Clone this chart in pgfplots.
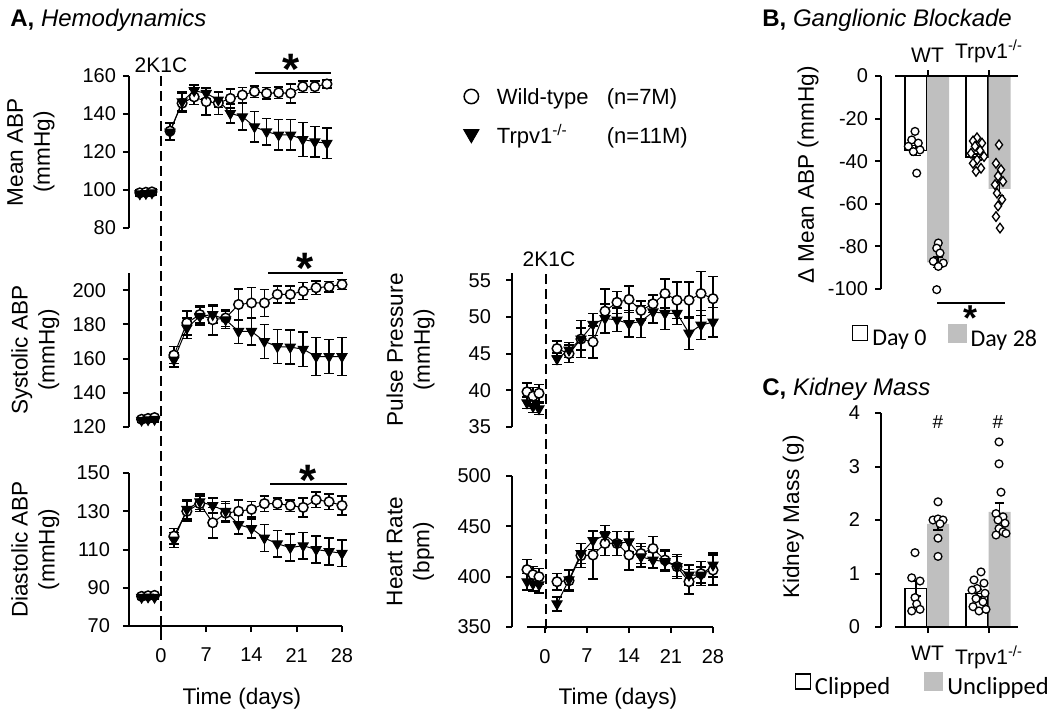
\documentclass[border=0pt]{standalone}
\usepackage{pgfplots}
\pgfplotsset{compat=1.18}
\usepackage{pgfplotstable}
\usepackage{fontspec}
\setmainfont{Liberation Sans}
\newfontfamily\calibri{Carlito}
\newcommand\fs[2]{\fontsize{#1}{#2}\selectfont}

% ---------------- data ----------------
\pgfplotstableread{
d wt wte ko koe
-3 98.5 1.5 98.0 1.5
-2 98.8 1.5 98.2 1.5
-1 99.0 1.5 98.5 1.5
}\meanbase
\pgfplotstableread{
d wt wte ko koe
2 131.0 4.5 130.5 4.5
4 145.7 5 146.5 5
6 149.0 4 152.3 3
8 146.5 7 150.9 3
10 145.8 6 147.4 4
12 148.2 5 140.3 5
14 150.0 4 138.6 7
16 151.8 3 133.3 8
18 150.9 3 130.7 7
20 151.2 3 129.0 8
22 150.9 5 129.0 8
24 154.4 3 126.6 9
26 154.4 3 125.4 8
28 155.8 2 124.6 8
}\meanpost
\pgfplotstableread{
d wt wte ko koe
-3 124.5 1.5 124.0 1.5
-2 125.0 1.5 124.3 1.5
-1 125.5 1.5 124.5 1.5
}\sysbase
\pgfplotstableread{
d wt wte ko koe
2 162.0 5 159.2 4
4 180.8 7 177.8 6
6 185.7 5 184.7 5
8 182.7 9 185.7 5
10 183.7 5 182.7 5
12 191.6 9 175.9 7
14 192.5 9 175.9 8
16 192.5 8 170.0 10
18 197.5 5 167.0 10
20 197.5 5 166.7 10
22 199.4 5 165.5 10
24 201.4 4 161.2 11
26 202.0 3 161.2 10
28 203.3 3 161.2 11
}\syspost
\pgfplotstableread{
d wt wte ko koe
-3 85.5 1.5 85.0 1.2
-2 85.8 1.5 85.2 1.2
-1 86.0 1.5 85.0 1.2
}\diabase
\pgfplotstableread{
d wt wte ko koe
2 117 4 115 4
4 130 5 131 5
6 134 4 135 4
8 124 8 133 4
10 129 5 130 5
12 130 6 123 5
14 131 4 121 5
16 134 4 116 7
18 134 3 113 7
20 133 3 111 7
22 132 5 112 7
24 136 4 110 7
26 135 4 109 7
28 133 5 108 7
}\diapost
\pgfplotstableread{
d wt wte ko koe
-3 39.8 1.2 38.3 0.8
-2 39.2 1.2 37.8 0.8
-1 39.6 1.2 37.5 0.8
}\ppbase
\pgfplotstableread{
d wt wte ko koe
2 45.7 1.0 44.3 0.8
4 45.0 1.2 45.5 1.0
6 47.0 1.5 47.0 2.5
8 46.6 2.2 49.0 1.5
10 50.8 3.0 49.8 2.0
12 52.0 1.5 49.6 1.6
14 52.4 1.8 49.1 1.8
16 50.9 1.3 49.4 2.2
18 51.8 1.2 50.7 1.5
20 53.2 2.0 50.5 2.2
22 52.3 2.5 50.5 1.5
24 52.3 2.5 47.8 2.2
26 53.2 3.0 48.9 2.0
28 52.5 3.0 49.3 2.0
}\pppost
\pgfplotstableread{
d wt wte ko koe
-3 407 10 395 8
-2 402 8 393 7
-1 400 8 392 8
}\hrbase
\pgfplotstableread{
d wt wte ko koe
2 395 8 373 7
4 396 10 397 10
6 421 12 423 10
8 421.5 24 436 9
10 433 12 441 10
12 433 12 433 12
14 421.5 15 434.7 10
16 423 10 419.8 10
18 428 12 416.5 8
20 416.5 10 415 10
22 410 12 410 10
24 395 12 401.6 10
26 403 12 401.6 8
28 406.6 15 411.6 12
}\hrpost

\pgfplotsset{
  base/.style={scale only axis, clip=false, enlargelimits=false,
    axis line style={-, line width=1pt},
    tick style={line width=1pt, black},
    tick align=outside, major tick length=3pt,
    /pgf/number format/assume math mode=true,
    tick label style={font=\fs{10}{12}},
    label style={font=\fs{11.3}{13.5}, align=center}},
  hemo/.style={base, axis y line*=left},
  wt/.style={black, line width=0.5pt, mark=*, mark size=2.4pt,
    mark options={fill=white, line width=0.75pt}},
  ko/.style={black, line width=0.5pt, mark=triangle*, mark size=2.9pt,
    mark options={fill=black, rotate=180, line width=0.5pt}},
  eb/.style={error bars/y dir=both, error bars/y explicit,
    error bars/error bar style={line width=0.75pt, draw=black, solid},
    error bars/error mark options={rotate=90, mark size=2.4pt, line width=0.75pt, draw=black}},
  dot/.style={only marks, mark=*, mark size=1.95pt, mark options={fill=white, draw=black, line width=0.65pt}},
  dia/.style={only marks, mark=diamond*, mark size=2.4pt, mark options={fill=white, draw=black, line width=0.65pt}},
}

\begin{document}
\begin{tikzpicture}
\useasboundingbox (0,0) rectangle (525pt,-359.5pt);

% ---------- Mean ABP ----------
\begin{axis}[hemo, at={(64.5pt,-114pt)}, anchor=south west, width=106.5pt, height=76pt,
  xmin=-4.8, xmax=30.5, ymin=80, ymax=160, axis x line=none, ytick={80,100,...,160},
  ylabel={Mean ABP\\(mmHg)}, ylabel style={at={(axis description cs:-0.46,0.5)}, anchor=center},
  legend style={at={(axis description cs:1.57,0.946)}, anchor=north west, draw=none, fill=none,
    inner sep=0pt, row sep=4.5pt, font=\fs{11}{13}, cells={anchor=west},
    /tikz/every odd column/.append style={column sep=7pt}},
  legend image code/.code={\draw[#1, every mark/.append style={scale=1.5}] plot coordinates {(0.3cm,0.8pt)};}]
\addplot[wt, eb] table[x=d, y=wt, y error=wte] {\meanpost};
\addplot[ko, eb] table[x=d, y=ko, y error=koe] {\meanpost};
\addplot[wt, eb, forget plot] table[x=d, y=wt, y error=wte] {\meanbase};
\addplot[ko, eb, forget plot] table[x=d, y=ko, y error=koe] {\meanbase};
\legend{\makebox[55pt][l]{Wild-type}(n=7M), \makebox[55pt][l]{Trpv1\textsuperscript{-/-}}(n=11M)}
\end{axis}

% ---------- Systolic ----------
\begin{axis}[hemo, at={(64.5pt,-213.5pt)}, anchor=south west, width=106.5pt, height=77pt,
  xmin=-4.95, xmax=28, ymin=120, ymax=210, axis x line=none, ytick={120,140,...,200},
  yticklabel shift=5pt,
  ylabel={Systolic ABP\\(mmHg)}, ylabel style={at={(axis description cs:-0.44,0.5)}, anchor=center}]
\addplot[wt, eb] table[x=d, y=wt, y error=wte] {\syspost};
\addplot[ko, eb] table[x=d, y=ko, y error=koe] {\syspost};
\addplot[wt, eb] table[x=d, y=wt, y error=wte] {\sysbase};
\addplot[ko, eb] table[x=d, y=ko, y error=koe] {\sysbase};
\end{axis}

% ---------- Diastolic ----------
\begin{axis}[hemo, at={(64.5pt,-313pt)}, anchor=south west, width=106.5pt, height=76.5pt,
  xmin=-4.95, xmax=28, ymin=70, ymax=150, axis x line*=bottom, ytick={70,90,...,150},
  xtick={0,7,14,21,28}, yticklabel shift=3pt, xticklabel shift=4.5pt,
  xlabel={Time (days)}, xlabel style={at={(axis description cs:0.53,-0.477)}, anchor=center},
  ylabel={Diastolic ABP\\(mmHg)}, ylabel style={at={(axis description cs:-0.44,0.5)}, anchor=center}]
\addplot[wt, eb] table[x=d, y=wt, y error=wte] {\diapost};
\addplot[ko, eb] table[x=d, y=ko, y error=koe] {\diapost};
\addplot[wt, eb] table[x=d, y=wt, y error=wte] {\diabase};
\addplot[ko, eb] table[x=d, y=ko, y error=koe] {\diabase};
\end{axis}

% ---------- Pulse pressure ----------
\begin{axis}[hemo, at={(256pt,-213.5pt)}, anchor=south west, width=100.5pt, height=77pt,
  xmin=-5.5, xmax=28, ymin=35, ymax=56, axis x line=none, ytick={35,40,...,55},
  yticklabel shift=4pt,
  ylabel={Pulse Pressure\\(mmHg)}, ylabel style={at={(axis description cs:-0.505,0.5)}, anchor=center}]
\addplot[wt, eb] table[x=d, y=wt, y error=wte] {\pppost};
\addplot[ko, eb] table[x=d, y=ko, y error=koe] {\pppost};
\addplot[wt, eb] table[x=d, y=wt, y error=wte] {\ppbase};
\addplot[ko, eb] table[x=d, y=ko, y error=koe] {\ppbase};
\end{axis}

% ---------- Heart rate ----------
\begin{axis}[hemo, at={(256pt,-313.5pt)}, anchor=south west, width=100.5pt, height=75.5pt,
  xmin=-5.5, xmax=28, ymin=350, ymax=500, axis x line*=bottom, x axis line style={draw=none},
  ytick={350,400,...,500}, xtick={0,7,14,21,28}, yticklabel shift=4pt, xticklabel shift=4.5pt,
  xlabel={Time (days)}, xlabel style={at={(axis description cs:0.527,-0.477)}, anchor=center},
  ylabel={Heart Rate\\(bpm)}, ylabel style={at={(axis description cs:-0.505,0.5)}, anchor=center}]
\draw[line width=1pt] (axis cs:-3,350) -- (axis cs:28,350);
\addplot[wt, eb] table[x=d, y=wt, y error=wte] {\hrpost};
\addplot[ko, eb] table[x=d, y=ko, y error=koe] {\hrpost};
\addplot[wt, eb] table[x=d, y=wt, y error=wte] {\hrbase};
\addplot[ko, eb] table[x=d, y=ko, y error=koe] {\hrbase};
\end{axis}

% ---------- B: Ganglionic blockade ----------
\begin{axis}[base, at={(440.5pt,-144.5pt)}, anchor=south west, width=68.5pt, height=106.5pt,
  xmin=0, xmax=137, ymin=-100, ymax=0,
  axis y line*=left, axis x line*=top, x axis line style={draw=none},
  xtick={46.5,108}, xticklabels={WT, Trpv1\textsuperscript{-/-}},
  x tick label style={font=\fs{10.5}{12}},
  ytick={-100,-80,...,0}, yticklabels={-100,-80,-60,-40,-20,0},
  ylabel={Δ Mean ABP (mmHg)}, ylabel style={at={(axis description cs:-0.533,0.535)}, anchor=center},
  legend columns=2,
  legend style={at={(axis description cs:-0.257,-0.232)}, anchor=west, draw=none, fill=none,
    font=\calibri\fs{12}{14}, /tikz/every even column/.append style={column sep=8.5pt}}]
\addplot[ybar, bar width=22, bar shift=0pt, fill=white, draw=black, line width=0.6pt, eb,
  legend image code/.code={\draw[black, fill=white, line width=0.6pt] (0pt,-0.5pt) rectangle (7.5pt,7pt);}]
  coordinates {(35,-35) +- (0,2.3) (96,-38) +- (0,1.4)};
\addplot[ybar, bar width=22, bar shift=0pt, fill=black!25, draw=none, eb,
  legend image code/.code={\fill[black!25] (0pt,-1.5pt) rectangle (9.5pt,8pt);}]
  coordinates {(57,-87.5) +- (0,2.5) (118.5,-53) +- (0,3.2)};
\legend{Day 0, Day 28}
\draw[line width=1pt] (axis cs:14,0) -- (axis cs:137,0);
\addplot[dot] coordinates {(34,-26) (30.7,-30) (37.3,-31.5) (27.3,-33) (39,-34.7) (32.3,-35.5) (35.7,-45.6)};
\addplot[dot] coordinates {(57.3,-78.4) (55.7,-80.8) (59,-83.1) (52.3,-87) (62.3,-87.8) (57.3,-89.4) (55.7,-100.3)};
\addplot[dia] coordinates {(96,-29) (92,-30.5) (101,-31.5) (94,-33) (99,-35) (90,-36.3) (103,-37.8) (96,-39.4) (92,-41) (100,-43.3) (95,-44.8)};
\addplot[dia] coordinates {(118,-32.3) (115,-41) (120,-44) (117,-47) (122,-49.5) (114,-51) (116,-55) (121,-58) (117,-61) (115,-66) (119,-71.4)};
\end{axis}

% ---------- C: Kidney mass ----------
\begin{axis}[base, at={(440.5pt,-313.5pt)}, anchor=south west, width=68.5pt, height=107pt,
  xmin=0, xmax=137, ymin=0, ymax=4,
  axis y line*=left, axis x line*=bottom, x axis line style={draw=none},
  xtick={46.5,108}, xticklabels={WT, Trpv1\textsuperscript{-/-}},
  x tick label style={font=\fs{10.5}{12}}, xticklabel shift=3pt,
  ytick={0,1,2,3,4}, yticklabel shift=4pt,
  ylabel={Kidney Mass (g)}, ylabel style={at={(axis description cs:-0.64,0.514)}, anchor=center},
  legend columns=2,
  legend style={at={(axis description cs:-0.676,-0.28)}, anchor=west, draw=none, fill=none,
    font=\calibri\fs{12.3}{14}, /tikz/every even column/.append style={column sep=15pt}}]
\addplot[ybar, bar width=22, bar shift=0pt, fill=white, draw=black, line width=0.6pt, eb,
  legend image code/.code={\draw[black, fill=white, line width=0.6pt] (0pt,-0.5pt) rectangle (7.5pt,7pt);}]
  coordinates {(35,0.72) +- (0,0.14) (96,0.63) +- (0,0.07)};
\addplot[ybar, bar width=22, bar shift=0pt, fill=black!25, draw=none, eb,
  legend image code/.code={\fill[black!25] (0pt,-1.5pt) rectangle (9.5pt,8pt);}]
  coordinates {(57,1.93) +- (0,0.12) (118.5,2.15) +- (0,0.17)};
\legend{Clipped, Unclipped}
\draw[line width=1pt] (axis cs:14,0) -- (axis cs:137,0);
\addplot[dot] coordinates {(34,1.39) (30.7,0.92) (39,0.86) (34,0.55) (35.7,0.43) (30.7,0.30) (39,0.33)};
\addplot[dot] coordinates {(57,2.34) (52,2.0) (57,2.02) (62,2.0) (59,1.93) (57,1.66) (57,1.32)};
\addplot[dot] coordinates {(100,1.03) (93,0.88) (103,0.82) (96,0.72) (91,0.69) (104,0.63) (95,0.53) (102,0.47) (92,0.38) (98,0.30) (105,0.33)};
\addplot[dot] coordinates {(118,3.46) (118,3.05) (120,2.52) (115,2.12) (122,2.06) (117,2.0) (124,1.94) (118,1.84) (122,1.78) (115,1.72) (125,1.75)};
\node[font=\fs{9.5}{11}] at (axis cs:57,3.83) {\#};
\node[font=\fs{9.5}{11}] at (axis cs:117,3.83) {\#};
\end{axis}

% ---------- annotations ----------
\begin{scope}[x=0.5pt, y=-0.5pt]
\node[anchor=base west, font=\fs{12}{14}, inner sep=0pt] at (10,26) {\textbf{A,} \textit{Hemodynamics}};
\node[anchor=base west, font=\fs{12}{14}, inner sep=0pt] at (762,26) {\textbf{B,} \textit{Ganglionic Blockade}};
\node[anchor=base west, font=\fs{12}{14}, inner sep=0pt] at (762,395) {\textbf{C,} \textit{Kidney Mass}};
\node[font=\fs{10.5}{12}] at (161,65) {2K1C};
\node[font=\fs{10.5}{12}] at (549,259) {2K1C};
\draw[line width=1pt, dash pattern=on 5pt off 2.5pt] (161,76) -- (161,640);
\draw[line width=1pt, dash pattern=on 5pt off 2.5pt] (546,274) -- (546,633);
\draw[line width=0.75pt] (255,73) -- (331,73);
\node[anchor=base, font=\bfseries\fs{22}{24}, inner sep=0pt] at (291,84.5) {*};
\draw[line width=0.75pt] (268,273) -- (343,273);
\node[anchor=base, font=\bfseries\fs{22}{24}, inner sep=0pt] at (305,283) {*};
\draw[line width=0.75pt] (270,484) -- (347,484);
\node[anchor=base, font=\bfseries\fs{22}{24}, inner sep=0pt] at (308,495) {*};
\draw[line width=0.75pt] (937,303) -- (1005,303);
\node[anchor=base, font=\bfseries\fs{18}{20}, inner sep=0pt] at (970,330) {*};
\end{scope}
\end{tikzpicture}
\end{document}
